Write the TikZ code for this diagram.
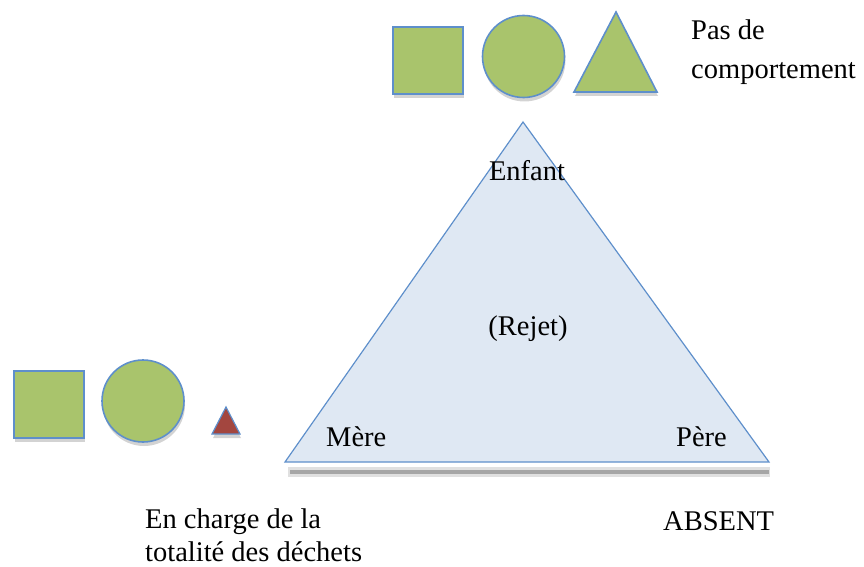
\documentclass[tikz,border=0pt]{standalone}
\usepackage{fontspec}
\setmainfont{Liberation Serif}
\usetikzlibrary{shadows}
\definecolor{grn}{HTML}{A9C46C}
\definecolor{bl}{HTML}{5E8FCB}
\definecolor{lb}{HTML}{DFE8F3}
\definecolor{rd}{HTML}{A3463F}
\begin{document}
\begin{tikzpicture}[x=1pt,y=-1pt,
  shp/.style={fill=grn,draw=bl,line width=1.6pt,drop shadow={shadow xshift=1pt,shadow yshift=-4pt,opacity=0.35}},
  lbl/.style={font=\fontsize{28.5}{33}\selectfont,inner sep=0pt}]
\useasboundingbox (0,0) rectangle (864,567);
% top shapes
\path[shp] (393,27) rectangle (463,94);
\path[shp] (523.5,56.5) circle (41);
\path[shp] (616,12) -- (657,92) -- (574,92) -- cycle;
% left shapes
\path[shp] (14,371) rectangle (84,438);
\path[shp] (143,401) circle (41);
\path[shp,fill=rd,line width=1.2pt] (226,407) -- (240,434) -- (212,434) -- cycle;
% big triangle shadow
\fill[gray!60,opacity=0.4] (288,467) rectangle (770,477);
\fill[gray!70] (290,470) rectangle (769,474);
\draw[fill=lb,draw=bl,line width=1.2pt] (523,122) -- (769,462) -- (285,462) -- cycle;
% labels
\node[lbl,anchor=base west] (pas) at (691,40) {Pas de};
\node[lbl,anchor=base west] (comp) at (691,79) {comportement};
\node[lbl,anchor=base] (enf) at (527,180) {Enfant};
\node[lbl,anchor=base] (rej) at (528,335) {(Rejet)};
\node[lbl,anchor=base west] (mere) at (326,446) {Mère};
\node[lbl,anchor=base west] (pere) at (676,446) {Père};
\node[lbl,anchor=base west] (ench) at (145,528) {En charge de la};
\node[lbl,anchor=base west] (tot) at (145,561) {totalité des déchets};
\node[lbl,anchor=base west] (abs) at (663,530) {ABSENT};
\end{tikzpicture}
\end{document}
